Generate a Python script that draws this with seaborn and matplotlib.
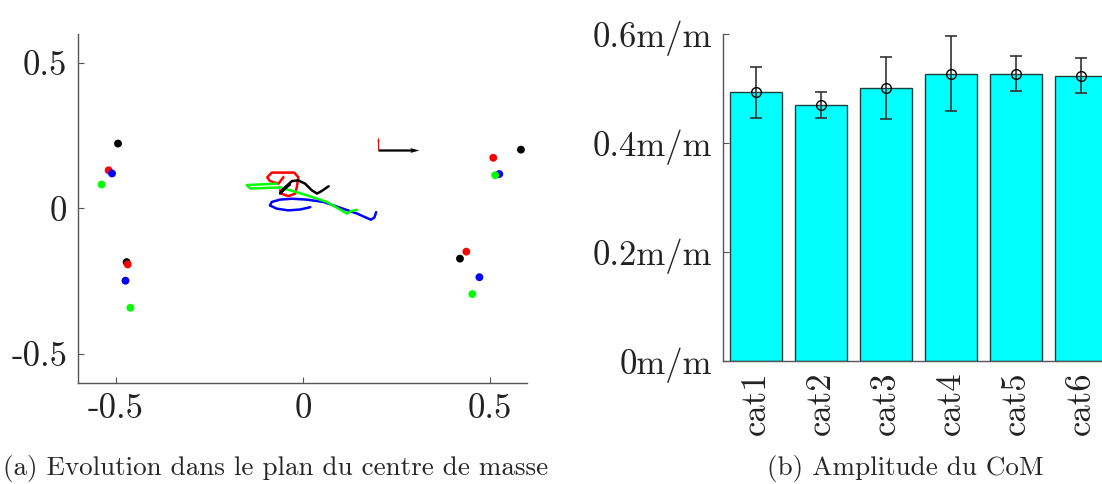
import numpy as np
import pandas as pd
import seaborn as sns
import matplotlib.pyplot as plt

# ---- data: left panel (CoM trajectories + foot markers) ----
traj_red_x = [-0.052, -0.052, -0.065, -0.088, -0.095, -0.083, -0.052, -0.023, -0.012, -0.016, -0.021, -0.039, -0.056, -0.061]
traj_red_y = [0.106, 0.085, 0.085, 0.094, 0.107, 0.123, 0.130, 0.123, 0.107, 0.073, 0.050, 0.042, 0.050, 0.062]
traj_blue_x = [0.020, -0.007, -0.039, -0.070, -0.088, -0.083, -0.061, -0.029, 0.011, 0.055, 0.100, 0.145, 0.171, 0.182, 0.191, 0.196]
traj_blue_y = [0.004, -0.004, -0.007, -0.001, 0.010, 0.022, 0.030, 0.033, 0.030, 0.022, 0.002, -0.018, -0.033, -0.039, -0.032, -0.013]
traj_green_x = [-0.070, -0.150, -0.140, -0.060, 0.011, 0.064, 0.118, 0.128, 0.145]
traj_green_y = [0.085, 0.080, 0.068, 0.072, 0.045, 0.022, -0.018, -0.010, -0.005]
traj_black_x = [-0.055, -0.035, -0.050, -0.061, -0.047, -0.029, -0.012, 0.006, 0.024, 0.038, 0.051, 0.069]
traj_black_y = [0.060, 0.082, 0.068, 0.051, 0.073, 0.094, 0.096, 0.085, 0.062, 0.051, 0.060, 0.076]

foot_color = ['black', 'red', 'blue', 'green'] * 4
foot_x = [-0.494, -0.519, -0.510, -0.538,
          -0.471, -0.468, -0.474, -0.461,
          0.583, 0.509, 0.525, 0.514,
          0.420, 0.437, 0.472, 0.453]
foot_y = [0.223, 0.131, 0.120, 0.082,
          -0.185, -0.193, -0.249, -0.342,
          0.202, 0.174, 0.118, 0.114,
          -0.173, -0.149, -0.237, -0.295]

# reference frame arrows (origin, dx, dy)
frame_x = [0.200, 0.200]
frame_y = [0.200, 0.200]
frame_u = [0.109, 0.0]
frame_v = [0.0, 0.045]
frame_c = ['black', 'red']
frame_w = [0.005, 0.0025]

# ---- data: right panel (amplitude bars) ----
categories = ['cat1', 'cat2', 'cat3', 'cat4', 'cat5', 'cat6']
amplitude = [0.493, 0.469, 0.500, 0.527, 0.527, 0.523]
amplitude_err = [0.047, 0.024, 0.057, 0.069, 0.032, 0.032]

sns.set_style('ticks')
plt.rcParams['font.family'] = ['cmr10', 'DejaVu Serif']
plt.rcParams['axes.unicode_minus'] = False
plt.rcParams['xtick.direction'] = 'in'
plt.rcParams['ytick.direction'] = 'in'

fig = plt.figure(figsize=(11.02, 4.84), dpi=100)
ax1 = fig.add_axes([0.0711, 0.2093, 0.4074, 0.7205])
ax2 = fig.add_axes([0.6564, 0.2548, 0.3539, 0.6750])

spine_col = '#555555'

# left panel
for xs, ys, c in [(traj_red_x, traj_red_y, 'red'), (traj_blue_x, traj_blue_y, 'blue'),
                  (traj_green_x, traj_green_y, '#00ff00'), (traj_black_x, traj_black_y, 'black')]:
    sns.lineplot(x=xs, y=ys, sort=False, color=c, linewidth=1.8, ax=ax1)

foot_df = pd.DataFrame({'x': foot_x, 'y': foot_y, 'c': foot_color})
pal = {'black': 'black', 'red': 'red', 'blue': 'blue', 'green': '#00ff00'}
sns.scatterplot(data=foot_df, x='x', y='y', hue='c', palette=pal, s=32,
                edgecolor='none', legend=False, ax=ax1)

for i in range(len(frame_x)):
    ax1.quiver(frame_x[i], frame_y[i], frame_u[i], frame_v[i], color=frame_c[i],
               angles='xy', scale_units='xy', scale=1, width=frame_w[i],
               headwidth=2.2, headlength=4, headaxislength=3.5)

ax1.set_xlim(-0.6, 0.6)
ax1.set_ylim(-0.6, 0.6)
ax1.set_xticks([-0.5, 0, 0.5])
ax1.set_xticklabels(['-0.5', '0', '0.5'])
ax1.set_yticks([-0.5, 0, 0.5])
ax1.set_yticklabels(['-0.5', '0', '0.5'])
ax1.set_xlabel('')
ax1.set_ylabel('')
sns.despine(ax=ax1)

# right panel
bar_df = pd.DataFrame({'cat': categories, 'amp': amplitude})
sns.barplot(data=bar_df, x='cat', y='amp', color='#00ffff', saturation=1,
            edgecolor='#1f3f3f', linewidth=1.0, width=0.8, ax=ax2)
ax2.errorbar(range(len(categories)), amplitude, yerr=amplitude_err, fmt='o',
             mfc='none', mec='black', ms=7, ecolor='#333333', elinewidth=1.2,
             capsize=4, capthick=1.2)
ax2.set_xlim(-0.5, 5.5)
ax2.set_ylim(0, 0.6)
ax2.set_yticks([0, 0.2, 0.4, 0.6])
ax2.set_yticklabels(['0m/m', '0.2m/m', '0.4m/m', '0.6m/m'])
ax2.set_xticks(range(len(categories)))
ax2.set_xticklabels(categories, rotation=90)
ax2.set_xlabel('')
ax2.set_ylabel('')
sns.despine(ax=ax2)

for ax in (ax1, ax2):
    for s in ('left', 'bottom'):
        ax.spines[s].set_color(spine_col)
        ax.spines[s].set_linewidth(1.0)
    ax.tick_params(labelsize=25, length=4, width=0.8, colors=spine_col,
                   labelcolor='#222222', pad=8)

fig.text(0.25, 0.033, '(a) Evolution dans le plan du centre de masse',
         ha='center', va='center', fontsize=19.5)
fig.text(0.822, 0.033, '(b) Amplitude du CoM', ha='center', va='center', fontsize=19.5)

fig.savefig('out.png', dpi=100)
